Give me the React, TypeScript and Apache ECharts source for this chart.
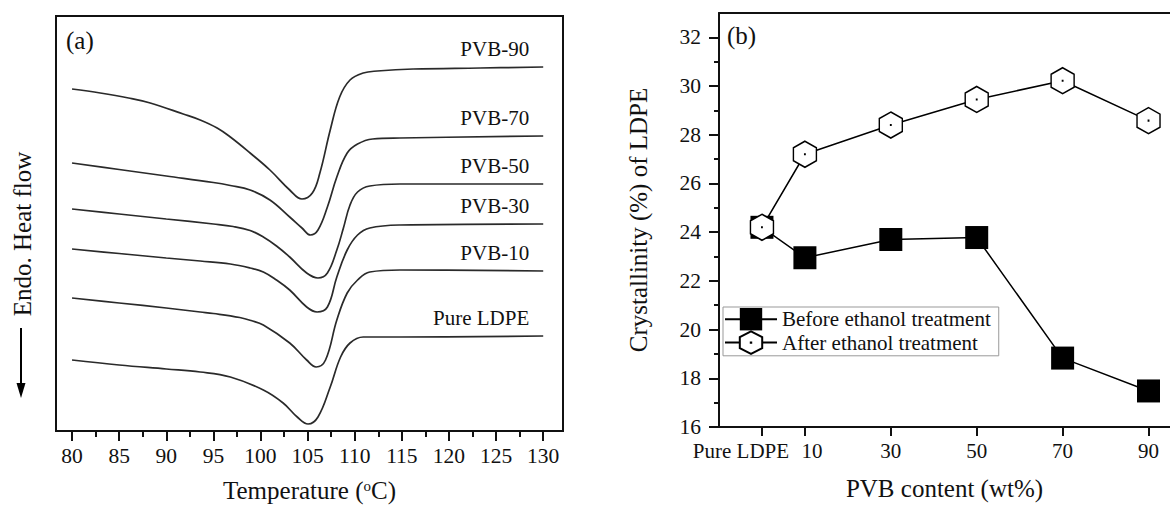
import React, { useEffect, useRef } from 'react';
import * as echarts from 'echarts';

const FONT = '"Liberation Serif", "Times New Roman", serif';

// ---------- Panel (a): DSC curves (arbitrary heat-flow units) ----------
const curveNames = ['PVB-90', 'PVB-70', 'PVB-50', 'PVB-30', 'PVB-10', 'Pure LDPE'];

const tempPVB90 = [80, 83, 86, 88.3, 91.8, 93.6, 95.4, 96.8, 98.9, 101, 103.1, 104.4, 105.5, 106.3, 107.4, 108.4, 109.5, 110.9, 112.4, 116.2, 123.3, 130];
const flowPVB90 = [342, 338, 333, 328, 317, 311, 303, 294, 278, 261, 241, 232, 238, 258, 301, 334, 351, 358, 360, 362, 363, 364];

const tempPVB70 = [80, 85, 90, 95, 96.8, 98.9, 101, 103.1, 104.4, 105.3, 106.1, 107.1, 108.1, 109.2, 110.3, 111.9, 114.8, 130];
const flowPVB70 = [268, 261.5, 255, 248.5, 245.5, 241, 231, 214, 203, 196, 201, 224, 254, 278, 287, 292, 293, 295];

const tempPVB50 = [80, 85, 90, 95, 97.1, 98.9, 100.3, 101.7, 103.1, 104.9, 106.1, 107.1, 108.1, 108.8, 109.5, 110.3, 111.6, 114.8, 130];
const flowPVB50 = [222, 217, 212, 207, 204.5, 200.5, 194, 185, 174, 158, 153, 158, 181, 203, 226, 239, 245, 247, 247];

const tempPVB30 = [80, 85, 90, 93.6, 96.8, 98.9, 100.3, 101.7, 103.1, 104.9, 106.0, 107.1, 108.1, 109.2, 110.3, 111.6, 114.8, 130];
const flowPVB30 = [182, 177.5, 173, 170, 167, 163, 159, 151, 141, 124, 119, 124, 154, 181, 196, 203, 206, 207];

const tempPVB10 = [80, 85, 90, 93.6, 95, 97.8, 99, 100.3, 103.1, 104.9, 105.9, 106.9, 108.1, 109.2, 110.3, 111.6, 114.8, 130];
const flowPVB10 = [133, 128, 123, 119, 117.5, 113.5, 110.5, 106, 88, 71, 64, 71, 111, 138, 151, 159, 161, 160];

const tempLDPE = [80, 85, 90, 93.6, 96.8, 100.3, 102.4, 103.9, 105.05, 106.1, 107.4, 108.5, 109.5, 110.9, 114.8, 130];
const flowLDPE = [71, 66, 62, 59, 54, 41, 28, 14, 7, 14, 44, 74, 88, 94, 94, 95];

const curveTemps = [tempPVB90, tempPVB70, tempPVB50, tempPVB30, tempPVB10, tempLDPE];
const curveFlows = [flowPVB90, flowPVB70, flowPVB50, flowPVB30, flowPVB10, flowLDPE];

const tempMajorTicks = [80, 85, 90, 95, 100, 105, 110, 115, 120, 125, 130];
const tempMinorTicks = [82.5, 87.5, 92.5, 97.5, 102.5, 107.5, 112.5, 117.5, 122.5, 127.5];

// ---------- Panel (b): crystallinity ----------
const pvbContent = [0, 10, 30, 50, 70, 90];
const pvbTickLabels = ['Pure LDPE', '10', '30', '50', '70', '90'];
const crystBefore = [24.2, 22.95, 23.7, 23.78, 18.83, 17.48];
const crystAfter = [24.2, 27.2, 28.4, 29.45, 30.22, 28.58];
const crystMajorTicks = [16, 18, 20, 22, 24, 26, 28, 30, 32];
const crystMinorTicks = [17, 19, 21, 23, 25, 27, 29, 31];
const seriesNames = ['Before ethanol treatment', 'After ethanol treatment'];

const HEX = 'path://M50 0 L100 25 L100 75 L50 100 L0 75 L0 25 Z M49 49 L51 49 L51 51 L49 51 Z';

export default function App() {
  const ref = useRef<HTMLDivElement>(null);

  useEffect(() => {
    document.body.style.margin = '0';
    if (!ref.current) return;
    const chart = echarts.init(ref.current, undefined, { renderer: 'svg' });

    const curveSeries = curveNames.map((name, i) => ({
      type: 'line',
      name,
      xAxisIndex: 0,
      yAxisIndex: 0,
      data: curveTemps[i].map((t, j) => [t, curveFlows[i][j]]),
      symbol: 'none',
      showSymbol: false,
      smooth: 0.4,
      lineStyle: { color: '#2a2a2a', width: 1.7 },
      endLabel: {
        show: true,
        formatter: name,
        align: 'right',
        verticalAlign: 'middle',
        offset: [-22, -18],
        color: '#111',
        fontSize: 21,
        fontFamily: FONT,
      },
      silent: true,
    }));

    const option: any = {
      animation: false,
      textStyle: { fontFamily: FONT, color: '#111' },
      grid: [
        { left: 56, top: 16, width: 507, height: 415, show: true, borderColor: '#111', borderWidth: 2, backgroundColor: 'transparent' },
        { left: 719, top: 13, right: 0, bottom: 84 },
      ],
      xAxis: [
        {
          type: 'value', gridIndex: 0, min: 78.3, max: 132.1, position: 'bottom',
          axisLine: { show: false, onZero: false },
          splitLine: { show: false },
          axisTick: { show: true, inside: false, length: 10, customValues: tempMajorTicks, lineStyle: { color: '#111', width: 2 } },
          axisLabel: { show: true, customValues: tempMajorTicks, margin: 14, fontSize: 21.5, color: '#111', fontFamily: FONT },
          name: 'Temperature ({sup|o}C)',
          nameLocation: 'middle',
          nameGap: 47,
          nameTextStyle: {
            fontSize: 25, color: '#111', fontFamily: FONT,
            rich: { sup: { fontSize: 15, fontFamily: FONT, color: '#111', verticalAlign: 'top', padding: [0, 0, 10, 0] } },
          },
        },
        {
          type: 'value', gridIndex: 0, min: 78.3, max: 132.1, position: 'bottom',
          axisLine: { show: false, onZero: false },
          splitLine: { show: false },
          axisTick: { show: true, inside: false, length: 6, customValues: tempMinorTicks, lineStyle: { color: '#111', width: 2 } },
          axisLabel: { show: false },
        },
        {
          type: 'value', gridIndex: 1, min: -10, max: 95, position: 'bottom',
          axisLine: { show: true, onZero: false, lineStyle: { color: '#111', width: 2 } },
          splitLine: { show: false },
          axisTick: { show: true, inside: false, length: 9, customValues: pvbContent, lineStyle: { color: '#111', width: 2 } },
          axisLabel: {
            show: true, customValues: pvbContent, margin: 13, fontSize: 21, color: '#111', fontFamily: FONT,
            formatter: (v: number) => {
              const idx = pvbContent.indexOf(v);
              const txt = idx >= 0 ? pvbTickLabels[idx] : '';
              if (idx === 0) return '{l|' + txt + '}';
              if (idx === 1) return '{r|' + txt + '}';
              return txt;
            },
            rich: {
              l: { fontSize: 21, fontFamily: FONT, color: '#111', padding: [0, 42, 0, 0] },
              r: { fontSize: 21, fontFamily: FONT, color: '#111', padding: [0, 0, 0, 14] },
            },
          },
          name: 'PVB content (wt%)',
          nameLocation: 'middle',
          nameGap: 49,
          nameTextStyle: { fontSize: 25, color: '#111', fontFamily: FONT },
        },
        {
          type: 'value', gridIndex: 1, min: -10, max: 95, position: 'top',
          axisLine: { show: true, onZero: false, lineStyle: { color: '#111', width: 2 } },
          axisTick: { show: false }, axisLabel: { show: false }, splitLine: { show: false },
        },
      ],
      yAxis: [
        { type: 'value', gridIndex: 0, min: 0, max: 415, show: false, splitLine: { show: false } },
        {
          type: 'value', gridIndex: 1, min: 16, max: 33, position: 'left',
          axisLine: { show: true, onZero: false, lineStyle: { color: '#111', width: 2 } },
          splitLine: { show: false },
          axisTick: { show: true, inside: false, length: 10, customValues: crystMajorTicks, lineStyle: { color: '#111', width: 2 } },
          axisLabel: { show: true, customValues: crystMajorTicks, margin: 18, fontSize: 21.5, color: '#111', fontFamily: FONT },
          name: 'Crystallinity (%) of LDPE',
          nameLocation: 'middle',
          nameRotate: 90,
          nameGap: 68,
          nameTextStyle: { fontSize: 25, color: '#111', fontFamily: FONT },
        },
        {
          type: 'value', gridIndex: 1, min: 16, max: 33, position: 'left',
          axisLine: { show: false, onZero: false },
          splitLine: { show: false },
          axisTick: { show: true, inside: false, length: 5, customValues: crystMinorTicks, lineStyle: { color: '#111', width: 2 } },
          axisLabel: { show: false },
        },
      ],
      legend: {
        data: seriesNames,
        orient: 'vertical',
        left: 723,
        top: 307,
        padding: [1, 8, 1, 1],
        itemGap: 0,
        itemWidth: 52,
        itemHeight: 28,
        borderColor: '#999',
        borderWidth: 1,
        backgroundColor: '#fff',
        textStyle: { fontSize: 21, color: '#111', fontFamily: FONT },
        selectedMode: false,
      },
      series: [
        ...curveSeries,
        {
          type: 'line',
          name: seriesNames[0],
          xAxisIndex: 2,
          yAxisIndex: 1,
          data: pvbContent.map((x, i) => [x, crystBefore[i]]),
          symbol: 'rect',
          symbolSize: 23,
          itemStyle: { color: '#000' },
          lineStyle: { color: '#000', width: 1.5 },
        },
        {
          type: 'line',
          name: seriesNames[1],
          xAxisIndex: 2,
          yAxisIndex: 1,
          data: pvbContent.map((x, i) => [x, crystAfter[i]]),
          symbol: HEX,
          symbolSize: [23, 26],
          itemStyle: { color: '#fff', borderColor: '#000', borderWidth: 1.5 },
          lineStyle: { color: '#000', width: 1.5 },
        },
      ],
      graphic: [
        { type: 'text', left: 66, top: 28, style: { text: '(a)', fontSize: 25, fontFamily: FONT, fill: '#111' } },
        { type: 'text', left: 727, top: 23, style: { text: '(b)', fontSize: 25, fontFamily: FONT, fill: '#111' } },
        {
          type: 'text', x: 22, y: 234, rotation: Math.PI / 2,
          style: { text: 'Endo. Heat flow', fontSize: 25, fontFamily: FONT, fill: '#111', align: 'center', verticalAlign: 'middle' },
        },
        { type: 'line', shape: { x1: 21, y1: 328, x2: 21, y2: 388 }, style: { stroke: '#000', lineWidth: 2 } },
        { type: 'polygon', shape: { points: [[16.5, 383], [25.5, 383], [21, 398]] }, style: { fill: '#000' } },
      ],
    };

    chart.setOption(option);
    return () => chart.dispose();
  }, []);

  return <div ref={ref} style={{ width: 1170, height: 511 }} />;
}
